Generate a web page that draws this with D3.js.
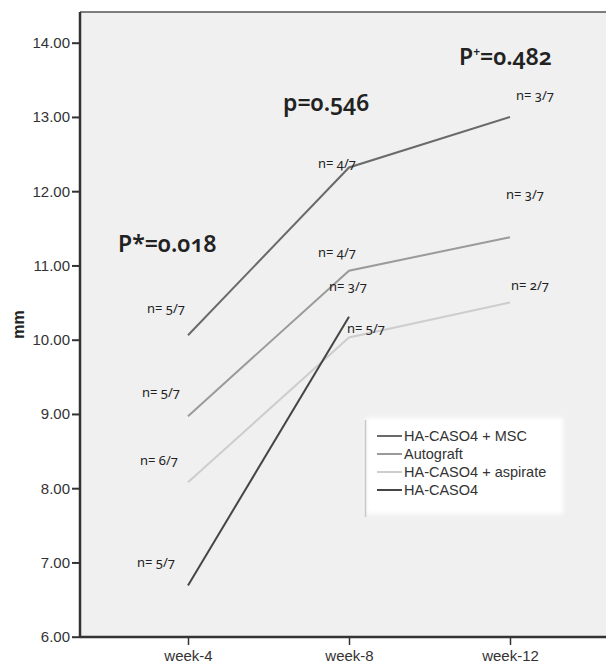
<!DOCTYPE html>
<html>
<head>
<meta charset="utf-8">
<script src="https://cdn.jsdelivr.net/npm/d3@7"></script>
<style>
  html, body { margin: 0; padding: 0; background: #ffffff; }
  svg { display: block; }
  .tick text { font-family: "Liberation Sans", Arial, sans-serif; font-size: 15px; fill: #333; }
  .ann { font-family: "Noto Sans", "Open Sans", sans-serif; font-feature-settings: "onum" 1; fill: #222; }
</style>
</head>
<body>
<svg id="chart" width="606" height="664"></svg>
<script>
// ---- data ----
const weeks = ["week-4", "week-8", "week-12"];
const seriesNames = ["HA-CASO4 + MSC", "Autograft", "HA-CASO4 + aspirate", "HA-CASO4"];
const mscValues       = [10.06, 12.32, 13.00];
const autograftValues = [8.97, 10.93, 11.38];
const aspirateValues  = [8.08, 10.03, 10.50];
const hacaso4Values   = [6.69, 10.31, null];
const mscN       = ["n= 5/7", "n= 4/7", "n= 3/7"];
const autograftN = ["n= 5/7", "n= 4/7", "n= 3/7"];
const aspirateN  = ["n= 6/7", "n= 3/7", "n= 2/7"];
const hacaso4N   = ["n= 5/7", "n= 5/7", null];
const yTicks = [6, 7, 8, 9, 10, 11, 12, 13, 14];
const pLabels = ["P*=0.018", "p=0.546", "P=0.482"];
const pWeeks  = ["week-4", "week-8", "week-12"];
const pValues = [11.18, 13.08, 13.70];

// ---- layout / style ----
const W = 606, H = 664;
const plotLeft = 80, plotTop = 12, plotBottom = 637, plotRight = 606;
const colors = ["#6a6a6a", "#9a9a9a", "#cdcdcd", "#454545"];
const nOffsets = [
  [[-41, -22.5], [-31, 0.5], [6, -17]],
  [[-46, -19.5], [-31, -14], [-4, -38]],
  [[-48, -17], [-20, -46], [1, -13]],
  [[-51, -18.5], [-2, 16.5], null]
];
const pOffsets = [-70, -66, -51];

const svg = d3.select("#chart");

const x = d3.scalePoint().domain(weeks).range([188, 510]);
const y = d3.scaleLinear().domain([6, 14]).range([636.7, 42.7]);

// plot background
svg.append("rect")
  .attr("x", plotLeft).attr("y", plotTop)
  .attr("width", plotRight - plotLeft).attr("height", plotBottom - plotTop)
  .attr("fill", "#f0f0f0");
svg.append("line")
  .attr("x1", plotLeft).attr("x2", plotRight)
  .attr("y1", plotTop).attr("y2", plotTop)
  .attr("stroke", "#555").attr("stroke-width", 1.5);

// axes
const yAxis = svg.append("g")
  .attr("transform", `translate(${plotLeft},0)`)
  .call(d3.axisLeft(y).tickValues(yTicks).tickFormat(d3.format(".2f")).tickSize(8).tickPadding(2).tickSizeOuter(0));
yAxis.select(".domain").attr("stroke", "#333").attr("stroke-width", 2.5)
  .attr("d", `M0,${plotTop}V${plotBottom}`);
yAxis.selectAll(".tick line").attr("stroke", "#333").attr("stroke-width", 2);

const xAxis = svg.append("g")
  .attr("transform", `translate(0,${plotBottom})`)
  .call(d3.axisBottom(x).tickSize(8).tickPadding(5).tickSizeOuter(0));
xAxis.select(".domain").attr("stroke", "#333").attr("stroke-width", 2.5)
  .attr("d", `M${plotLeft},0H${plotRight}`);
xAxis.selectAll(".tick line").attr("stroke", "#333").attr("stroke-width", 1.5);

// y-axis title
svg.append("text")
  .attr("transform", `translate(24,${(plotTop + plotBottom) / 2}) rotate(-90)`)
  .attr("text-anchor", "middle")
  .attr("font-family", "Liberation Sans, Arial, sans-serif")
  .attr("font-size", 16).attr("font-weight", "bold").attr("fill", "#222")
  .text("mm");

// lines
const allValues = [mscValues, autograftValues, aspirateValues, hacaso4Values];
const allN = [mscN, autograftN, aspirateN, hacaso4N];
const line = d3.line()
  .defined(d => d.v !== null)
  .x(d => x(d.w)).y(d => y(d.v));

allValues.forEach((vals, i) => {
  const pts = weeks.map((w, j) => ({ w, v: vals[j] }));
  svg.append("path")
    .datum(pts)
    .attr("d", line)
    .attr("fill", "none")
    .attr("stroke", colors[i])
    .attr("stroke-width", 2);
});

// n labels
allValues.forEach((vals, i) => {
  weeks.forEach((w, j) => {
    if (vals[j] === null || allN[i][j] === null) return;
    const off = nOffsets[i][j];
    svg.append("text")
      .attr("class", "ann")
      .attr("x", x(w) + off[0])
      .attr("y", y(vals[j]) + off[1])
      .attr("font-size", 13)
      .attr("fill", "#333")
      .text(allN[i][j]);
  });
});

// p annotations
pLabels.forEach((t, i) => {
  const txt = svg.append("text")
    .attr("class", "ann")
    .attr("x", x(pWeeks[i]) + pOffsets[i])
    .attr("y", y(pValues[i]))
    .attr("font-size", 23)
    .attr("font-weight", 600);
  if (i === 2) {
    txt.append("tspan").text("P");
    txt.append("tspan").attr("font-size", 12).attr("dy", -9).text("+");
    txt.append("tspan").attr("dy", 9).text("=0.482");
  } else {
    txt.text(t);
  }
});

// legend
const defs = svg.append("defs");
defs.append("filter").attr("id", "soft")
  .attr("x", "-10%").attr("y", "-10%").attr("width", "120%").attr("height", "120%")
  .append("feGaussianBlur").attr("stdDeviation", 2);
const lg = svg.append("g");
lg.append("rect")
  .attr("x", 366).attr("y", 418).attr("width", 197).attr("height", 96)
  .attr("fill", "#ffffff").attr("filter", "url(#soft)");
lg.append("line")
  .attr("x1", 365.5).attr("x2", 365.5).attr("y1", 420).attr("y2", 517)
  .attr("stroke", "#c8c8c8").attr("stroke-width", 1.5);
seriesNames.forEach((name, i) => {
  const yy = 436 + i * 18;
  lg.append("line")
    .attr("x1", 377).attr("x2", 402).attr("y1", yy).attr("y2", yy)
    .attr("stroke", colors[i]).attr("stroke-width", 2);
  lg.append("text")
    .attr("x", 404).attr("y", yy)
    .attr("dy", "0.35em")
    .attr("font-family", "Liberation Sans, Arial, sans-serif")
    .attr("font-size", 14.5).attr("fill", "#333")
    .text(name);
});
</script>
</body>
</html>
